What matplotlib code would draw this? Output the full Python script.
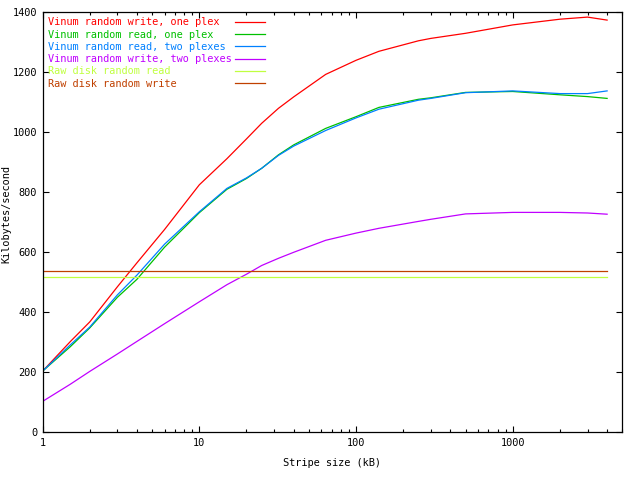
import matplotlib
matplotlib.use("Agg")
import matplotlib.pyplot as plt
from matplotlib.ticker import LogLocator, FixedLocator, NullFormatter, FixedFormatter

plt.rcParams['font.family'] = ['DejaVu Sans Mono']

# Stripe sizes (kB)
stripe_kb = [1, 1.5, 2, 3, 4, 6, 10, 15, 20, 25, 32, 40, 64, 100, 140,
             250, 300, 500, 1000, 2000, 3000, 4000]

write_one_plex = [204, 302, 368, 485, 565, 676, 825, 912, 978, 1030, 1080, 1118,
                  1193, 1240, 1270, 1305, 1313, 1330, 1358, 1377, 1384, 1374]
read_one_plex = [204, 285, 348, 450, 510, 617, 732, 810, 846, 880, 925, 958,
                 1013, 1052, 1083, 1110, 1115, 1133, 1136, 1125, 1119, 1113]
read_two_plexes = [204, 291, 351, 458, 524, 627, 735, 813, 848, 880, 923, 954,
                   1006, 1048, 1077, 1107, 1113, 1132, 1138, 1129, 1129, 1138]
write_two_plexes = [103, 160, 203, 261, 303, 362, 435, 492, 527, 556, 580, 600,
                    640, 664, 680, 703, 710, 728, 733, 733, 731, 727]

raw_x = [1, 4000]
raw_read = [517, 517]
raw_write = [537, 537]

labels = ["Vinum random write, one plex",
          "Vinum random read, one plex",
          "Vinum random read, two plexes",
          "Vinum random write, two plexes",
          "Raw disk random read",
          "Raw disk random write"]
colors = ["#ff0000", "#00c000", "#0080ff", "#c000ff", "#c0ff40", "#c04000"]

x_ticks = [1, 10, 100, 1000]
x_tick_labels = ["1", "10", "100", "1000"]
y_ticks = [0, 200, 400, 600, 800, 1000, 1200, 1400]

fig = plt.figure(figsize=(6.4, 4.8), dpi=100)
ax = fig.add_axes([42.6 / 640, 1 - 432.3 / 480, (622.3 - 42.6) / 640, (432.3 - 12.3) / 480])

series = [(stripe_kb, write_one_plex), (stripe_kb, read_one_plex),
          (stripe_kb, read_two_plexes), (stripe_kb, write_two_plexes),
          (raw_x, raw_read), (raw_x, raw_write)]
width = max(len(l) for l in labels)
for (xs, ys), lab, c in zip(series, labels, colors):
    ax.plot(xs, ys, color=c, lw=0.9, label=lab.ljust(width))

ax.set_xscale('log')
ax.set_xlim(1, 5000)
ax.set_ylim(0, 1400)
ax.xaxis.set_major_locator(FixedLocator(x_ticks))
ax.xaxis.set_major_formatter(FixedFormatter(x_tick_labels))
ax.xaxis.set_minor_locator(LogLocator(base=10, subs=range(2, 10)))
ax.xaxis.set_minor_formatter(NullFormatter())
ax.set_yticks(y_ticks)
ax.set_yticklabels([str(v) for v in y_ticks])

fs = 7.4
ax.tick_params(which='both', direction='in', top=True, right=True, labelsize=fs, pad=4)
ax.tick_params(which='major', length=4.5, width=0.8)
ax.tick_params(which='minor', length=2.5, width=0.8)
for s in ax.spines.values():
    s.set_linewidth(0.9)

ax.set_xlabel("Stripe size (kB)", fontsize=fs, labelpad=7)
ax.set_ylabel("Kilobytes/second", fontsize=fs, labelpad=2)
ax.yaxis.set_label_coords(-0.054, 0.52)

leg = ax.legend(loc='upper left', bbox_to_anchor=(0.0, 1.0), frameon=False,
                markerfirst=False, labelcolor='linecolor', fontsize=fs,
                handlelength=2.9, handletextpad=0.35, labelspacing=0.22,
                borderpad=0.4, borderaxespad=0.1)

fig.savefig("out.png", dpi=100)
